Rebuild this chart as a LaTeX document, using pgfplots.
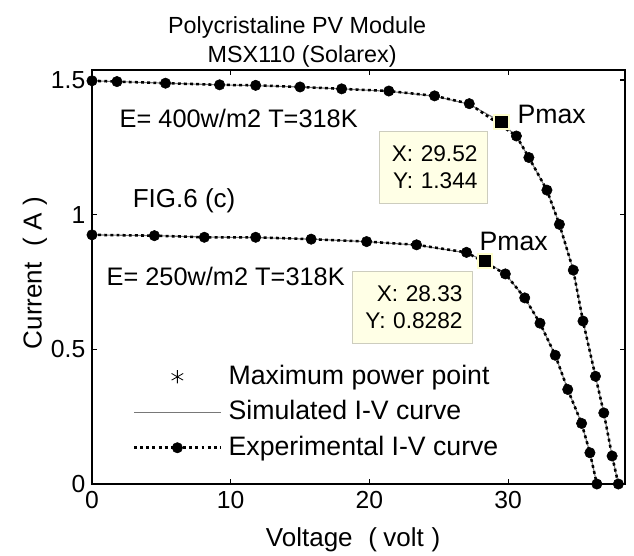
\documentclass[border=0pt]{standalone}
\usepackage{fontspec}
\setmainfont{Liberation Sans}
\usepackage{pgfplots}
\pgfplotsset{compat=1.18}
\definecolor{tipfill}{RGB}{255,255,230}
\definecolor{tipdraw}{RGB}{205,205,190}
\definecolor{mkedge}{RGB}{255,255,205}
\definecolor{simgray}{RGB}{120,120,120}
\pgfplotsset{
  legmark/.style={legend image code/.code={\path (0pt,0pt) (65pt,0pt); \draw[##1] plot coordinates {(32.5pt,0pt)};}},
  legline/.style={legend image code/.code={\draw[##1] (0pt,0pt) -- (65pt,0pt);}},
  legexp/.style={legend image code/.code={\draw[mark repeat=2,mark phase=2,##1] plot coordinates {(0pt,0pt)(32.5pt,0pt)(65pt,0pt)};}},
}
\begin{document}
\begin{tikzpicture}
\begin{axis}[
  name=ax,
  scale only axis,
  width=399.75pt, height=310.5pt,
  xmin=0, xmax=38.43, ymin=0, ymax=1.537,
  clip=false,
  xtick={0,10,20,30}, ytick={0,0.5,1,1.5},
  yticklabels={0,0.5,1,1.5},
  /pgf/number format/assume math mode=true,
  tick label style={font=\fontsize{18.5}{20}\selectfont},
  xticklabel style={yshift=-2pt},
  yticklabel style={xshift=-1.5pt},
  tick align=inside, major tick length=3.5pt,
  tick style={black, line width=0.8pt},
  axis line style={line width=1pt},
  xlabel={Voltage\hspace{0.6em}(\hspace{0.25em}volt\hspace{0.3em})},
  ylabel={Current\hspace{0.6em}(\hspace{0.3em}A\hspace{0.3em})},
  label style={font=\fontsize{19.5}{22}\selectfont},
  xlabel style={at={(axis description cs:0.490,-0.150)}, anchor=base},
  ylabel style={at={(axis description cs:-0.0944,0.51)}, anchor=base},
  legend style={at={(axis cs:2.94,0.445)}, anchor=north west, draw=none, fill=none,
    inner sep=0pt, outer sep=0pt, row sep=7.6pt,
    font=\fontsize{20}{22}\selectfont,
    nodes={inner sep=0pt, text height=15pt, text depth=4pt},
    /tikz/every odd column/.append style={column sep=5pt}},
  legend cell align=left,
]
% legend proxy: maximum power point (asterisk)
\addplot[only marks, mark=asterisk, mark size=5pt, black, line width=0.6pt, legmark]
  coordinates {(29.52,1.344) (28.33,0.8282)};
\addlegendentry{Maximum power point}
% simulated curves
\addplot[simgray, line width=0.8pt, no marks, legline]
  coordinates {(0,1.497)(1.8,1.494)(5.3,1.488)(9.2,1.482)(11.8,1.479)(15,1.474)(18,1.467)(21.4,1.458)(24.7,1.44)(27.2,1.41)(29.52,1.344)(30.6,1.29)(31.5,1.212)(32.8,1.09)(33.7,0.964)(34.7,0.794)(35.4,0.605)(36.3,0.4)(36.9,0.264)(37.5,0.104)(37.95,0)};
\addlegendentry{Simulated I-V curve}
\addplot[simgray, line width=0.8pt, no marks, forget plot]
  coordinates {(0,0.925)(4.5,0.922)(8.1,0.917)(11.8,0.915)(15.8,0.909)(19.8,0.9)(23.4,0.887)(27,0.858)(28.33,0.8282)(29.8,0.78)(31.2,0.691)(32.3,0.597)(33.4,0.478)(34.3,0.351)(35.3,0.225)(35.9,0.116)(36.4,0)};
% experimental curves
\addplot[black, line width=1.9pt, dash pattern=on 2.2pt off 2.4pt, mark=*, mark size=3.9pt,
  mark options={solid, line width=0.4pt}, legexp]
  coordinates {(0,1.497)(1.8,1.494)(5.3,1.488)(9.2,1.482)(11.8,1.48)(15,1.474)(18,1.467)(21.4,1.459)(24.7,1.441)(27.2,1.412)(30.6,1.292)(31.5,1.212)(32.8,1.091)(33.7,0.964)(34.7,0.794)(35.4,0.605)(36.3,0.4)(36.9,0.264)(37.5,0.104)(37.95,0)};
\addlegendentry{Experimental I-V curve}
\addplot[black, line width=1.9pt, dash pattern=on 2.2pt off 2.4pt, mark=*, mark size=3.9pt,
  mark options={solid, line width=0.4pt}, forget plot]
  coordinates {(0,0.925)(4.5,0.922)(8.1,0.916)(11.8,0.916)(15.8,0.909)(19.8,0.9)(23.4,0.888)(27,0.86)(29.8,0.78)(31.2,0.691)(32.3,0.597)(33.4,0.478)(34.3,0.351)(35.3,0.225)(35.9,0.116)(36.4,0)};
% data tip markers
\addplot[only marks, mark=square*, mark size=5.5pt, forget plot,
  mark options={fill=black, draw=mkedge, line width=1.5pt}]
  coordinates {(29.52,1.344) (28.33,0.8282)};
% annotations
\node[anchor=base west, font=\fontsize{19}{22}\selectfont] at (axis cs:1.66,1.322) {E= 400w/m2 T=318K};
\node[anchor=base west, font=\fontsize{19.5}{22}\selectfont] at (axis cs:2.6,1.026) {FIG.6 (c)};
\node[anchor=base west, font=\fontsize{19}{22}\selectfont] at (axis cs:0.72,0.737) {E= 250w/m2 T=318K};
\node[anchor=base west, font=\fontsize{20}{22}\selectfont] at (axis cs:30.35,1.337) {Pmax};
\node[anchor=base west, font=\fontsize{20}{22}\selectfont] at (axis cs:27.6,0.867) {Pmax};
\node[draw=tipdraw, fill=tipfill, line width=0.75pt, anchor=north east, minimum width=81pt,
  minimum height=54pt, inner xsep=7.5pt, text width=66pt, align=right,
  font=\fontsize{17}{20}\selectfont] at (axis cs:28.55,1.311) {X: 29.52\\Y: 1.344};
\node[draw=tipdraw, fill=tipfill, line width=0.75pt, anchor=north east, minimum width=90pt,
  minimum height=54pt, inner xsep=7.5pt, text width=75pt, align=right,
  font=\fontsize{17}{20}\selectfont] at (axis cs:27.47,0.792) {X: 28.33\\Y: 0.8282};
\end{axis}
\node[anchor=base, font=\fontsize{17.5}{20}\selectfont] at ([shift={(153.9pt,338.25pt)}]ax.south west) {Polycristaline PV Module};
\node[anchor=base, font=\fontsize{17.5}{20}\selectfont] at ([shift={(157.6pt,316.5pt)}]ax.south west) {MSX110 (Solarex)};
\path ([shift={(-69pt,-52.5pt)}]ax.south west) rectangle ++(475.5pt,415.5pt);
\end{tikzpicture}
\end{document}
